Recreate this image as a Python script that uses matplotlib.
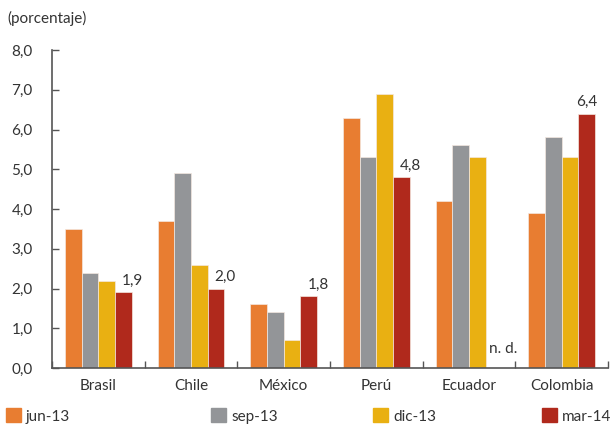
import matplotlib
matplotlib.use("Agg")
import matplotlib.pyplot as plt
import matplotlib.patches as mpatches
import numpy as np

plt.rcParams['font.family'] = ['Lato', 'DejaVu Sans']

categories = ["Brasil", "Chile", "México", "Perú", "Ecuador", "Colombia"]
series_names = ["jun-13", "sep-13", "dic-13", "mar-14"]
jun13 = [3.5, 3.7, 1.6, 6.3, 4.2, 3.9]
sep13 = [2.4, 4.9, 1.4, 5.3, 5.6, 5.8]
dic13 = [2.2, 2.6, 0.7, 6.9, 5.3, 5.3]
mar14 = [1.9, 2.0, 1.8, 4.8, np.nan, 6.4]
mar_labels = ["1,9", "2,0", "1,8", "4,8", "n. d.", "6,4"]
colors = ["#E87D31", "#939598", "#E9B012", "#B0291C"]
yticks = [0, 1, 2, 3, 4, 5, 6, 7, 8]
ytick_labels = ["0,0", "1,0", "2,0", "3,0", "4,0", "5,0", "6,0", "7,0", "8,0"]

fig = plt.figure(figsize=(6.13, 4.28), dpi=100)
ax = fig.add_axes([52/613, 1-368/428, 556/613, 318/428])

x = np.arange(len(categories))
w = 0.18
allser = [jun13, sep13, dic13, mar14]
for i, (vals, c) in enumerate(zip(allser, colors)):
    ax.bar(x + (i - 1.5) * w, vals, width=w, color=c, edgecolor="#f4e8e0", linewidth=0.5)

text_col = "#333333"
fs = 11
for j, lab in enumerate(mar_labels):
    xm = x[j] + 1.5 * w
    v = mar14[j]
    if np.isnan(v):
        ax.text(xm + 0.1, 0.3, lab, ha="center", va="bottom", fontsize=fs, color=text_col)
    else:
        dx = 0.0 if j == 5 else 0.1
        ax.text(xm + dx, v + 0.12, lab, ha="center", va="bottom", fontsize=fs, color=text_col)

ax.set_xlim(-0.5, len(categories) - 0.5)
ax.set_ylim(0, 8)
ax.set_yticks(yticks)
ax.set_yticklabels(ytick_labels)
ax.set_xticks(x)
ax.set_xticklabels(categories)
ax.set_xticks(np.arange(len(categories) + 1) - 0.5, minor=True)
ax.tick_params(axis="x", which="major", length=0, pad=8, labelsize=fs, labelcolor=text_col)
ax.tick_params(axis="x", which="minor", direction="in", length=5, width=1, color="#555555")
ax.tick_params(axis="y", direction="in", length=5, width=1, color="#555555", pad=14, labelsize=fs, labelcolor=text_col)
for s in ["top", "right"]:
    ax.spines[s].set_visible(False)
for s in ["left", "bottom"]:
    ax.spines[s].set_color("#555555")
    ax.spines[s].set_linewidth(1.2)

fig.text(7/613, 1-18/428, "(porcentaje)", ha="left", va="center", fontsize=fs, color=text_col)

leg_x = [0/613, 205/613, 367/613, 536/613]
for name, c, lx in zip(series_names, colors, leg_x):
    fig.legend(handles=[mpatches.Patch(color=c, label=name)], loc="center left",
               bbox_to_anchor=(lx, 1-416/428), frameon=False, fontsize=fs,
               handlelength=1.0, handleheight=1.0, handletextpad=0.3, borderaxespad=0,
               labelcolor=text_col)

fig.savefig("out.png", dpi=100)
